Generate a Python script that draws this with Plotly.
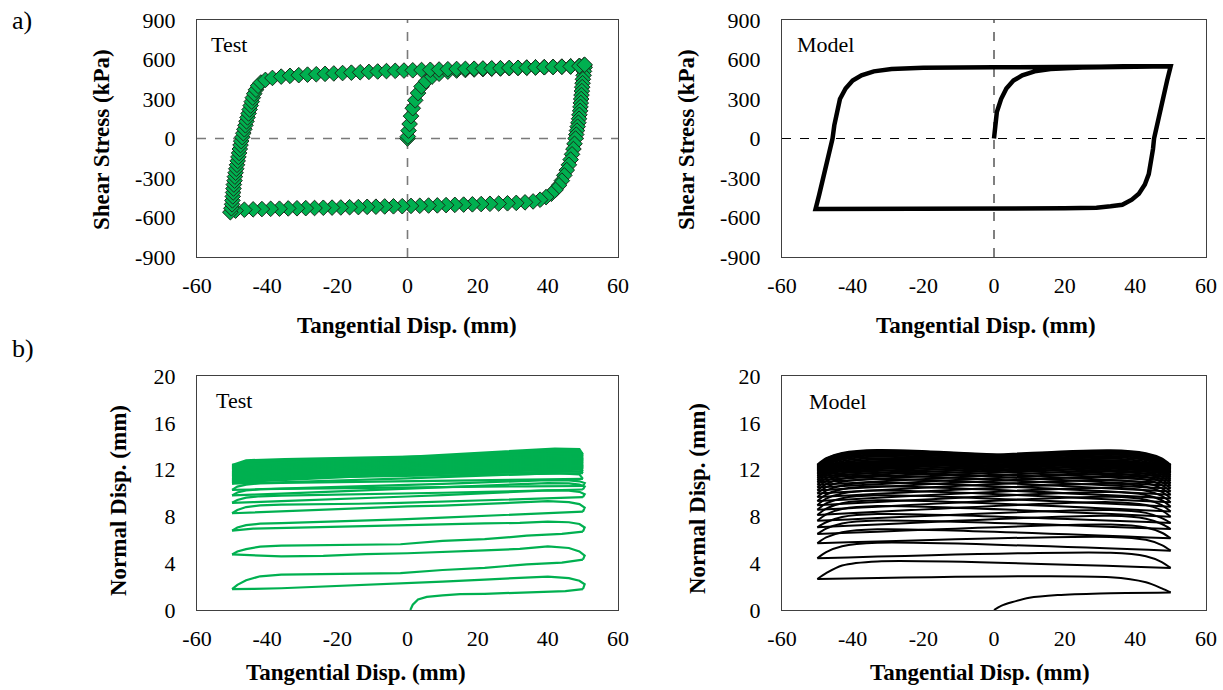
import plotly.graph_objects as go

# ---------------- data: panel a) Test (shear stress vs tangential disp.) ----------------
TA_X = [0, 0.1, 0.3, 0.6, 1.0, 1.5, 2.2, 3.0, 4.0, 5.3, 7.0, 9.0, 11.5, 14.0, 16.5, 19.0, 21.5, 24.0, 26.5,
        29.0, 31.5, 34.0, 36.5, 39.0, 41.5, 44.0, 46.5, 49.0, 50.3,
        50.5, 50.3, 50.2, 50.0, 49.9, 49.8, 49.7, 49.6, 49.5, 49.4, 49.3, 49.2, 49.0, 48.9, 48.7, 48.5, 48.3,
        48.1, 47.9, 47.6, 47.3, 46.9, 46.5, 46.0, 45.4, 44.7, 44.0, 43.2, 42.2, 41.0, 39.5, 37.8, 35.8, 33.5,
        31.0, 28.5, 26.0, 23.5, 21.0, 18.5, 16.0, 13.5, 11.0, 8.5, 6.0, 3.5, 1.0, -1.5, -4.0, -6.5, -9.0,
        -11.5, -14.0, -16.5, -19.0, -21.5, -24.0, -26.5, -29.0, -31.5, -34.0, -36.5, -39.0, -41.5, -44.0,
        -46.5, -49.0, -50.5,
        -50.2, -50.0, -49.9, -49.8, -49.7, -49.6, -49.5, -49.3, -49.2, -49.0, -48.8, -48.6, -48.4, -48.2,
        -48.0, -47.8, -47.6, -47.4, -47.1, -46.8, -46.5, -46.2, -45.9, -45.6, -45.3, -45.0, -44.7, -44.4,
        -44.1, -43.7, -43.2, -42.6, -41.8, -40.5, -38.5, -36.0, -33.5, -31.0, -28.5, -26.0, -23.5, -21.0,
        -18.5, -16.0, -13.5, -11.0, -8.5, -6.0, -3.5, -1.0, 1.5, 4.0, 6.5, 9.0, 11.5, 14.0, 16.5, 19.0, 21.5,
        24.0, 26.5, 29.0, 31.5, 34.0, 36.5, 39.0, 41.5, 44.0, 46.5, 49.0, 50.5]
TA_Y = [0, 15, 60, 110, 170, 230, 290, 345, 395, 435, 470, 492, 508, 516, 520, 524, 527, 530, 532,
        534, 536, 538, 540, 542, 544, 546, 548, 552, 556,
        540, 510, 480, 450, 420, 390, 360, 330, 300, 270, 240, 210, 180, 150, 120, 90, 60,
        30, 0, -40, -80, -120, -160, -200, -240, -280, -320, -355, -390, -420, -445, -465, -478, -485,
        -489, -492, -494, -496, -498, -500, -502, -504, -506, -508, -509, -511, -512, -514, -515, -516, -518,
        -519, -521, -522, -524, -525, -526, -528, -529, -530, -531, -533, -534, -536, -538,
        -541, -548, -560,
        -530, -500, -470, -440, -410, -380, -350, -320, -290, -260, -230, -200, -170, -140,
        -110, -80, -50, -20, 10, 40, 70, 100, 130, 160, 190, 220, 250, 280,
        310, 340, 370, 400, 425, 445, 460, 470, 476, 481, 485, 488, 491, 494,
        497, 500, 503, 506, 509, 512, 514, 516, 518, 520, 522, 524, 526, 528, 529, 530, 532,
        533, 534, 536, 537, 538, 540, 541, 543, 545, 547, 550, 560]

# ---------------- data: panel a) Model ----------------
MA_X = [0, 0.3, 0.8, 2.0, 3.5, 5.5, 8.0, 11.5, 16.0, 25.0, 50.0,
        49.0, 48.0, 47.0, 46.0, 45.3, 45.0, 44.5, 43.8, 42.7, 41.0, 39.0, 36.3, 33.0, 29.0, 20.0, 0.0, -25.0, -50.5,
        -49.5, -48.5, -47.5, -46.5, -45.7, -45.2, -44.5, -43.6, -42.0, -40.0, -37.5, -34.0, -29.0, -20.0, 0.0, 50.0]
MA_Y = [0, 100, 200, 300, 380, 440, 480, 510, 527, 540, 548,
        440, 320, 200, 90, 0, -80, -180, -270, -350, -420, -465, -503, -515, -526, -530, -532, -534, -535,
        -430, -320, -210, -100, 0, 100, 200, 300, 380, 440, 480, 510, 528, 537, 541, 548]

# ---------------- data: panel b) Test (normal vs tangential disp.) ----------------
TB_INIT_X = [0.8, 1.5, 3.0, 5.5, 10.0, 15.0, 22.0, 30.0, 39.0, 45.0, 50.0]
TB_INIT_Y = [0.0, 0.45, 0.9, 1.12, 1.25, 1.35, 1.38, 1.48, 1.55, 1.62, 1.78]
TB_XL = [50, 50.5, 49, 46, 40, 32, 22, 10, 0, -12, -24, -36, -44, -50]
TB_XR = [-50, -48.5, -46, -42, -36, -26, -14, -2, 10, 22, 34, 44, 50]
TB_LEFT = [
    [1.78, 2.2, 2.5, 2.72, 2.86, 2.72, 2.6, 2.42, 2.3, 2.12, 1.96, 1.86, 1.8, 1.78],
    [4.3, 4.65, 5.0, 5.3, 5.43, 5.22, 5.1, 4.95, 4.85, 4.78, 4.62, 4.58, 4.65, 4.75],
    [6.7, 7.05, 7.35, 7.5, 7.55, 7.45, 7.4, 7.32, 7.28, 7.2, 7.12, 7.05, 6.95, 6.78],
    [8.4, 8.75, 9.05, 9.22, 9.3, 9.2, 9.05, 8.92, 8.85, 8.7, 8.55, 8.42, 8.32, 8.27],
    [9.64, 9.9, 10.1, 10.2, 10.22, 10.1, 9.95, 9.82, 9.7, 9.55, 9.42, 9.3, 9.22, 9.16],
    [10.3, 10.55, 10.72, 10.82, 10.85, 10.75, 10.62, 10.48, 10.38, 10.22, 10.08, 9.95, 9.86, 9.8],
    [10.6, 10.85, 11.0, 11.08, 11.1, 11.0, 10.9, 10.78, 10.7, 10.58, 10.48, 10.38, 10.3, 10.27],
]
TB_RIGHT = [
    [1.78, 2.15, 2.55, 2.88, 3.02, 3.06, 3.05, 3.15, 3.42, 3.6, 3.9, 4.05, 4.3],
    [4.75, 5.0, 5.2, 5.42, 5.5, 5.52, 5.58, 5.62, 5.9, 6.05, 6.35, 6.5, 6.7],
    [6.78, 7.05, 7.25, 7.38, 7.42, 7.5, 7.62, 7.75, 7.9, 8.05, 8.2, 8.3, 8.4],
    [8.27, 8.55, 8.8, 8.95, 9.0, 9.02, 9.08, 9.15, 9.25, 9.35, 9.48, 9.56, 9.64],
    [9.16, 9.4, 9.6, 9.72, 9.78, 9.82, 9.88, 9.95, 10.02, 10.1, 10.18, 10.24, 10.3],
    [9.8, 10.05, 10.22, 10.32, 10.36, 10.4, 10.44, 10.48, 10.5, 10.54, 10.57, 10.6, 10.6],
    [10.27, 10.55, 10.72, 10.82, 10.86, 10.9, 10.95, 11.0, 11.05, 11.1, 11.14, 11.17, 11.2],
]
TB_DXL = [50, 49, 42, 0, -50]
TB_DXR = [-50, -46, -35, 10, 50]
TB_DENSE_LEFT = [
    [11.2, 11.6, 11.7, 11.25, 10.8], [11.7, 12.1, 12.2, 11.6, 10.9], [11.85, 12.25, 12.35, 11.7, 11.0],
    [12.0, 12.4, 12.5, 11.8, 11.1], [12.1, 12.5, 12.6, 11.9, 11.2], [12.2, 12.6, 12.7, 12.0, 11.3],
    [12.3, 12.7, 12.8, 12.1, 11.4], [12.4, 12.8, 12.9, 12.2, 11.5], [12.5, 12.9, 13.0, 12.3, 11.6],
    [12.6, 13.0, 13.1, 12.4, 11.7], [12.7, 13.1, 13.2, 12.5, 11.8], [12.8, 13.2, 13.3, 12.6, 11.9],
    [12.9, 13.3, 13.4, 12.7, 12.0], [13.0, 13.4, 13.5, 12.8, 12.1], [13.1, 13.5, 13.6, 12.9, 12.2],
    [13.2, 13.6, 13.7, 13.0, 12.3], [13.3, 13.75, 13.8, 13.1, 12.4],
]
TB_DENSE_RIGHT = [
    [10.8, 11.2, 11.3, 11.5, 11.7], [10.9, 11.3, 11.4, 11.62, 11.85], [11.0, 11.4, 11.5, 11.75, 12.0],
    [11.1, 11.5, 11.6, 11.85, 12.1], [11.2, 11.6, 11.7, 11.95, 12.2], [11.3, 11.7, 11.8, 12.05, 12.3],
    [11.4, 11.8, 11.9, 12.15, 12.4], [11.5, 11.9, 12.0, 12.25, 12.5], [11.6, 12.0, 12.1, 12.35, 12.6],
    [11.7, 12.1, 12.2, 12.45, 12.7], [11.8, 12.2, 12.3, 12.55, 12.8], [11.9, 12.3, 12.4, 12.65, 12.9],
    [12.0, 12.4, 12.5, 12.75, 13.0], [12.1, 12.5, 12.6, 12.85, 13.1], [12.2, 12.6, 12.7, 12.95, 13.2],
    [12.3, 12.7, 12.8, 13.05, 13.3], [12.4, 12.8, 12.9, 13.15, 13.4],
]

# ---------------- data: panel b) Model ----------------
MB_INIT_X = [0, 2, 5, 10, 18, 30, 50]
MB_INIT_Y = [0, 0.35, 0.66, 1.05, 1.28, 1.42, 1.5]
MB_XL = [50, 47.5, 43, 33, -50]
MB_XR = [-50, -47.5, -43, -33, 50]
MB_LEFT = [
    [1.5, 1.85, 2.37, 2.8, 2.65], [3.6, 4.1, 4.6, 4.9, 4.42], [5.07, 5.55, 6.0, 6.25, 5.7],
    [6.13, 6.6, 7.05, 7.3, 6.5], [6.92, 7.35, 7.8, 8.05, 7.07], [7.44, 7.85, 8.3, 8.55, 7.63],
    [7.97, 8.52, 8.97, 9.22, 8.12], [8.42, 8.97, 9.42, 9.67, 8.56], [8.83, 9.38, 9.83, 10.08, 8.96],
    [9.2, 9.75, 10.2, 10.45, 9.32], [9.54, 10.09, 10.54, 10.79, 9.65], [9.85, 10.4, 10.85, 11.1, 9.95],
    [10.13, 10.68, 11.13, 11.38, 10.22], [10.38, 10.93, 11.38, 11.63, 10.47], [10.62, 11.17, 11.62, 11.87, 10.7],
    [10.84, 11.39, 11.84, 12.09, 10.91], [11.04, 11.59, 12.04, 12.29, 11.1], [11.22, 11.77, 12.22, 12.47, 11.28],
    [11.39, 11.94, 12.39, 12.64, 11.44], [11.54, 12.09, 12.54, 12.79, 11.59], [11.68, 12.23, 12.68, 12.93, 11.72],
    [11.8, 12.35, 12.8, 13.05, 11.84], [11.91, 12.46, 12.91, 13.16, 11.95], [12.01, 12.56, 13.01, 13.26, 12.05],
    [12.1, 12.65, 13.1, 13.35, 12.14], [12.19, 12.74, 13.19, 13.44, 12.22], [12.27, 12.82, 13.27, 13.52, 12.3],
    [12.34, 12.89, 13.34, 13.59, 12.37], [12.4, 12.95, 13.4, 13.65, 12.42],
]
MB_RIGHT = [
    [2.65, 3.15, 3.8, 4.15, 3.6], [4.42, 4.95, 5.45, 5.75, 5.07], [5.7, 6.2, 6.65, 6.9, 6.13],
    [6.5, 6.95, 7.4, 7.65, 6.92], [7.07, 7.5, 7.95, 8.2, 7.44], [7.63, 8.18, 8.63, 8.88, 7.97],
    [8.12, 8.67, 9.12, 9.37, 8.42], [8.56, 9.11, 9.56, 9.81, 8.83], [8.96, 9.51, 9.96, 10.21, 9.2],
    [9.32, 9.87, 10.32, 10.57, 9.54], [9.65, 10.2, 10.65, 10.9, 9.85], [9.95, 10.5, 10.95, 11.2, 10.13],
    [10.22, 10.77, 11.22, 11.47, 10.38], [10.47, 11.02, 11.47, 11.72, 10.62], [10.7, 11.25, 11.7, 11.95, 10.84],
    [10.91, 11.46, 11.91, 12.16, 11.04], [11.1, 11.65, 12.1, 12.35, 11.22], [11.28, 11.83, 12.28, 12.53, 11.39],
    [11.44, 11.99, 12.44, 12.69, 11.54], [11.59, 12.14, 12.59, 12.84, 11.68], [11.72, 12.27, 12.72, 12.97, 11.8],
    [11.84, 12.39, 12.84, 13.09, 11.91], [11.95, 12.5, 12.95, 13.2, 12.01], [12.05, 12.6, 13.05, 13.3, 12.1],
    [12.14, 12.69, 13.14, 13.39, 12.19], [12.22, 12.77, 13.22, 13.47, 12.27], [12.3, 12.85, 13.3, 13.55, 12.34],
    [12.37, 12.92, 13.37, 13.62, 12.4], [12.42, 12.97, 13.42, 13.67, 12.45],
]

# ---------------- axes / labels ----------------
X_TICKS = [-60, -40, -20, 0, 20, 40, 60]
X_TICK_TEXT = ["-60", "-40", "-20", "0", "20", "40", "60"]
YA_TICKS = [-900, -600, -300, 0, 300, 600, 900]
YA_TICK_TEXT = ["-900", "-600", "-300", "0", "300", "600", "900"]
YB_TICKS = [0, 4, 8, 12, 16, 20]
YB_TICK_TEXT = ["0", "4", "8", "12", "16", "20"]

GREEN = "#00B050"
FONT = "Liberation Serif"
W, H = 1223, 690


def assemble(init_x, init_y, groups):
    xs, ys = list(init_x), list(init_y)
    for xgrid, passes in groups:
        for p in passes:
            xs.append(None)
            ys.append(None)
            xs.extend(xgrid)
            ys.extend(p)
    return xs, ys


def interleave(xl, lefts, xr, rights):
    out = []
    for i in range(max(len(lefts), len(rights))):
        if i < len(lefts):
            out.append((xl, [lefts[i]]))
        if i < len(rights):
            out.append((xr, [rights[i]]))
    return out


tbx, tby = assemble(TB_INIT_X, TB_INIT_Y,
                    interleave(TB_XL, TB_LEFT, TB_XR, TB_RIGHT) +
                    interleave(TB_DXL, TB_DENSE_LEFT, TB_DXR, TB_DENSE_RIGHT))
mbx, mby = assemble(MB_INIT_X, MB_INIT_Y, interleave(MB_XL, MB_LEFT, MB_XR, MB_RIGHT))

fig = go.Figure()
fig.add_trace(go.Scatter(x=TA_X, y=TA_Y, mode="markers", xaxis="x", yaxis="y",
                         marker=dict(symbol="diamond", size=12, color=GREEN,
                                     line=dict(color="#1a2a1a", width=1))))
fig.add_trace(go.Scatter(x=MA_X, y=MA_Y, mode="lines", xaxis="x2", yaxis="y2",
                         line=dict(color="black", width=4.5)))
fig.add_trace(go.Scatter(x=tbx, y=tby, mode="lines", xaxis="x3", yaxis="y3",
                         line=dict(color=GREEN, width=2.2)))
fig.add_trace(go.Scatter(x=mbx, y=mby, mode="lines", xaxis="x4", yaxis="y4",
                         line=dict(color="black", width=2, shape="spline", smoothing=0.8)))

COL1 = [197 / W, 618 / W]
COL2 = [782 / W, 1206 / W]
ROW1 = [1 - 257 / H, 1 - 20 / H]
ROW2 = [1 - 610 / H, 1 - 376 / H]
TICKFONT = dict(family=FONT, size=22, color="black")


def xax(domain, anchor):
    return dict(domain=domain, anchor=anchor, range=[-60, 60], tickvals=X_TICKS, ticktext=X_TICK_TEXT,
                showgrid=False, zeroline=False, showline=True, mirror=True, linecolor="#404040",
                linewidth=1.3, ticks="", ticklabelstandoff=8, tickfont=TICKFONT, automargin=False)


def yax(domain, anchor, rng, vals, text):
    return dict(domain=domain, anchor=anchor, range=rng, tickvals=vals, ticktext=text,
                showgrid=False, zeroline=False, showline=True, mirror=True, linecolor="#404040",
                linewidth=1.3, ticks="", ticklabelstandoff=16, tickfont=TICKFONT, automargin=False)


shapes = [
    dict(type="line", xref="x", yref="y", x0=0, x1=0, y0=-900, y1=900, layer="below",
         line=dict(color="#7a7a7a", width=1.6, dash="dash")),
    dict(type="line", xref="x", yref="y", x0=-60, x1=60, y0=0, y1=0, layer="below",
         line=dict(color="#7a7a7a", width=1.6, dash="dash")),
    dict(type="line", xref="x2", yref="y2", x0=0, x1=0, y0=-900, y1=900, layer="below",
         line=dict(color="black", width=1, dash="dash")),
    dict(type="line", xref="x2", yref="y2", x0=-60, x1=60, y0=0, y1=0, layer="below",
         line=dict(color="black", width=1, dash="dash")),
]


def ann(text, x, y, size=22, xanchor="center", angle=0, bold=False):
    return dict(text=f"<b>{text}</b>" if bold else text, x=x / W, y=1 - y / H, xref="paper", yref="paper",
                xanchor=xanchor, yanchor="middle", textangle=angle, showarrow=False,
                font=dict(family=FONT, size=size, color="black"))


annotations = [
    ann("a)", 10, 20, size=26, xanchor="left"),
    ann("b)", 10, 348, size=26, xanchor="left"),
    ann("Test", 209, 45, xanchor="left"),
    ann("Model", 795, 44, xanchor="left"),
    ann("Test", 214, 400, xanchor="left"),
    ann("Model", 807, 401, xanchor="left"),
    ann("Tangential Disp. (mm)", 407, 325, size=23, bold=True),
    ann("Tangential Disp. (mm)", 986, 325, size=23, bold=True),
    ann("Tangential Disp. (mm)", 356, 672, size=23, bold=True),
    ann("Tangential Disp. (mm)", 980, 672, size=23, bold=True),
    ann("Shear Stress (kPa)", 101, 140, size=23, angle=-90, bold=True),
    ann("Shear Stress (kPa)", 686, 140, size=23, angle=-90, bold=True),
    ann("Normal Disp. (mm)", 118, 501, size=23, angle=-90, bold=True),
    ann("Normal Disp. (mm)", 697, 499, size=23, angle=-90, bold=True),
]

fig.update_layout(
    width=W, height=H, margin=dict(l=0, r=0, t=0, b=0, pad=0),
    paper_bgcolor="white", plot_bgcolor="white", showlegend=False,
    xaxis=xax(COL1, "y"), yaxis=yax(ROW1, "x", [-900, 900], YA_TICKS, YA_TICK_TEXT),
    xaxis2=xax(COL2, "y2"), yaxis2=yax(ROW1, "x2", [-900, 900], YA_TICKS, YA_TICK_TEXT),
    xaxis3=xax(COL1, "y3"), yaxis3=yax(ROW2, "x3", [0, 20], YB_TICKS, YB_TICK_TEXT),
    xaxis4=xax(COL2, "y4"), yaxis4=yax(ROW2, "x4", [0, 20], YB_TICKS, YB_TICK_TEXT),
    shapes=shapes, annotations=annotations,
)

fig.write_html("out.html", config={"displayModeBar": False},
               post_script="document.body.style.margin='0px';document.body.style.overflow='hidden';")
